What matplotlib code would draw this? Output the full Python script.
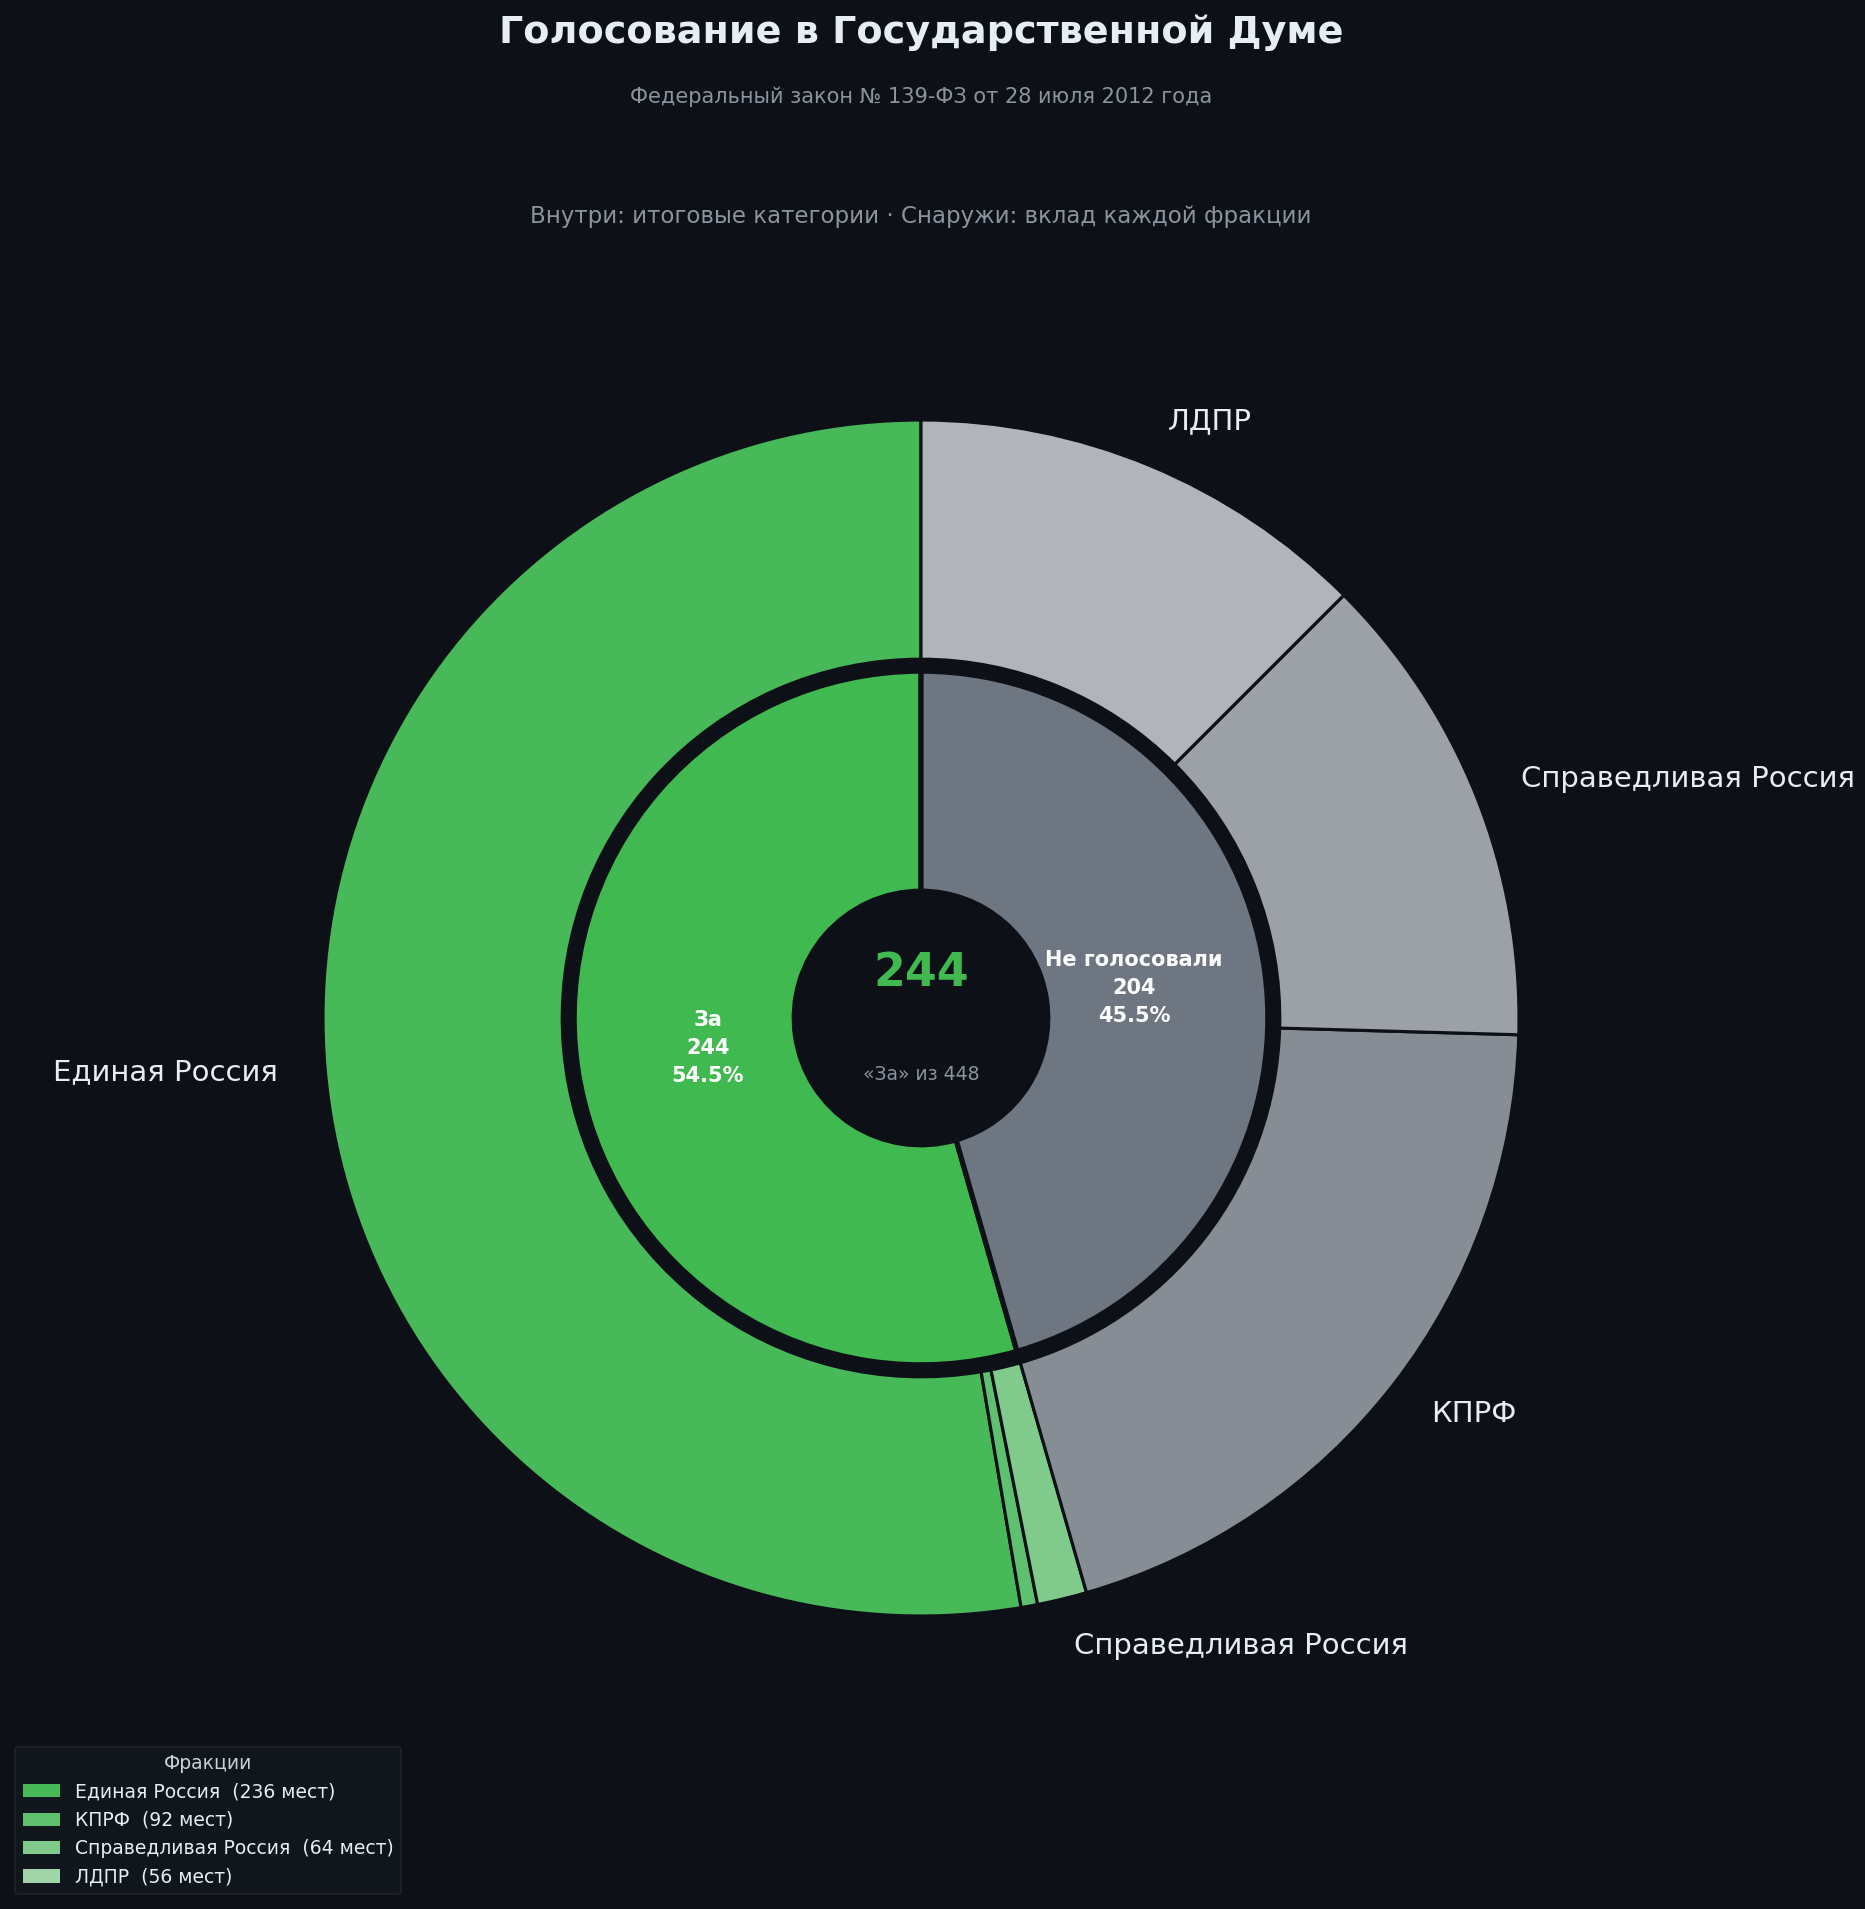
import numpy as np
import matplotlib.pyplot as plt
from matplotlib.patches import Patch

# данные
factions = ['Единая Россия', 'КПРФ', 'Справедливая Россия', 'ЛДПР']
seats = [236, 92, 64, 56]
votes_for = [236, 2, 6, 0]
not_voted = [0, 90, 58, 56]
categories = ['За', 'Не голосовали']
total = sum(seats)

bg = '#0d1117'
green = '#3fb950'
grey = '#6e7681'
faction_greens = ['#47b958', '#5fc070', '#80ca8c', '#a2d4a9']
faction_greys = ['#767d87', '#878d95', '#9ca1a8', '#b1b4b9']

cat_values = [sum(votes_for), sum(not_voted)]

# внешнее кольцо: сначала «за», потом «не голосовали»
outer_vals, outer_cols, outer_labels = [], [], []
for i, f in enumerate(factions):
    if votes_for[i] > 0:
        outer_vals.append(votes_for[i])
        outer_cols.append(faction_greens[i])
        outer_labels.append(f if votes_for[i] >= 5 else '')
for i, f in enumerate(factions):
    if not_voted[i] > 0:
        outer_vals.append(not_voted[i])
        outer_cols.append(faction_greys[i])
        outer_labels.append(f if not_voted[i] >= 5 else '')

W, H = 1865, 1909
fig = plt.figure(figsize=(W / 150, H / 150), dpi=150, facecolor=bg)
ax = fig.add_axes([0, 0, 1, 1])
ax.set_facecolor(bg)

R = 598.0
cx, cy = 921.0, H - 1018.0

ax.pie(outer_vals, radius=1.0, colors=outer_cols, labels=outer_labels,
       startangle=90, counterclock=True, labeldistance=1.08,
       wedgeprops=dict(width=0.4, edgecolor=bg, linewidth=1.5),
       textprops=dict(color='#e6edf3', fontsize=14))

inner_wedges, _ = ax.pie(cat_values, radius=0.58, colors=[green, grey],
                         startangle=90, counterclock=True,
                         wedgeprops=dict(width=0.368, edgecolor=bg, linewidth=2.5))

for w, name, v in zip(inner_wedges, categories, cat_values):
    ang = np.deg2rad((w.theta1 + w.theta2) / 2)
    ax.text(0.36 * np.cos(ang), 0.36 * np.sin(ang),
            f'{name}\n{v}\n{v / total * 100:.1f}%',
            ha='center', va='center', color='white', fontsize=10,
            fontweight='bold', linespacing=1.5)

ax.text(0, 0.075, str(cat_values[0]), ha='center', va='center',
        color=green, fontsize=22, fontweight='bold')
ax.text(0, -0.094, f'«За» из {total}', ha='center', va='center',
        color='#8b949e', fontsize=9)

ax.set_aspect('auto')
ax.set_xlim(-cx / R, (W - cx) / R)
ax.set_ylim(-cy / R, (H - cy) / R)
ax.axis('off')

xt = cx / W
fig.text(xt, 1 - 43 / H, 'Голосование в Государственной Думе', ha='center',
         va='baseline', color='#e6edf3', fontsize=18.3, fontweight='bold')
fig.text(xt, 1 - 103 / H, 'Федеральный закон № 139-ФЗ от 28 июля 2012 года',
         ha='center', va='baseline', color='#8b949e', fontsize=10)
fig.text(xt, 1 - 223 / H, 'Внутри: итоговые категории · Снаружи: вклад каждой фракции',
         ha='center', va='baseline', color='#8b949e', fontsize=11)

handles = [Patch(facecolor=c, edgecolor='none') for c in faction_greens]
leg_labels = [f'{f}  ({s} мест)' for f, s in zip(factions, seats)]
leg = ax.legend(handles, leg_labels, title='Фракции', loc='lower left',
                bbox_to_anchor=(15 / W, 15 / H), bbox_transform=fig.transFigure,
                borderaxespad=0, fontsize=9, title_fontsize=9,
                facecolor='#11151c', edgecolor='#1c2128', labelcolor='#e6edf3',
                framealpha=1)
leg.get_title().set_color('#c9d1d9')

fig.savefig('out.png', dpi=150, facecolor=bg)
